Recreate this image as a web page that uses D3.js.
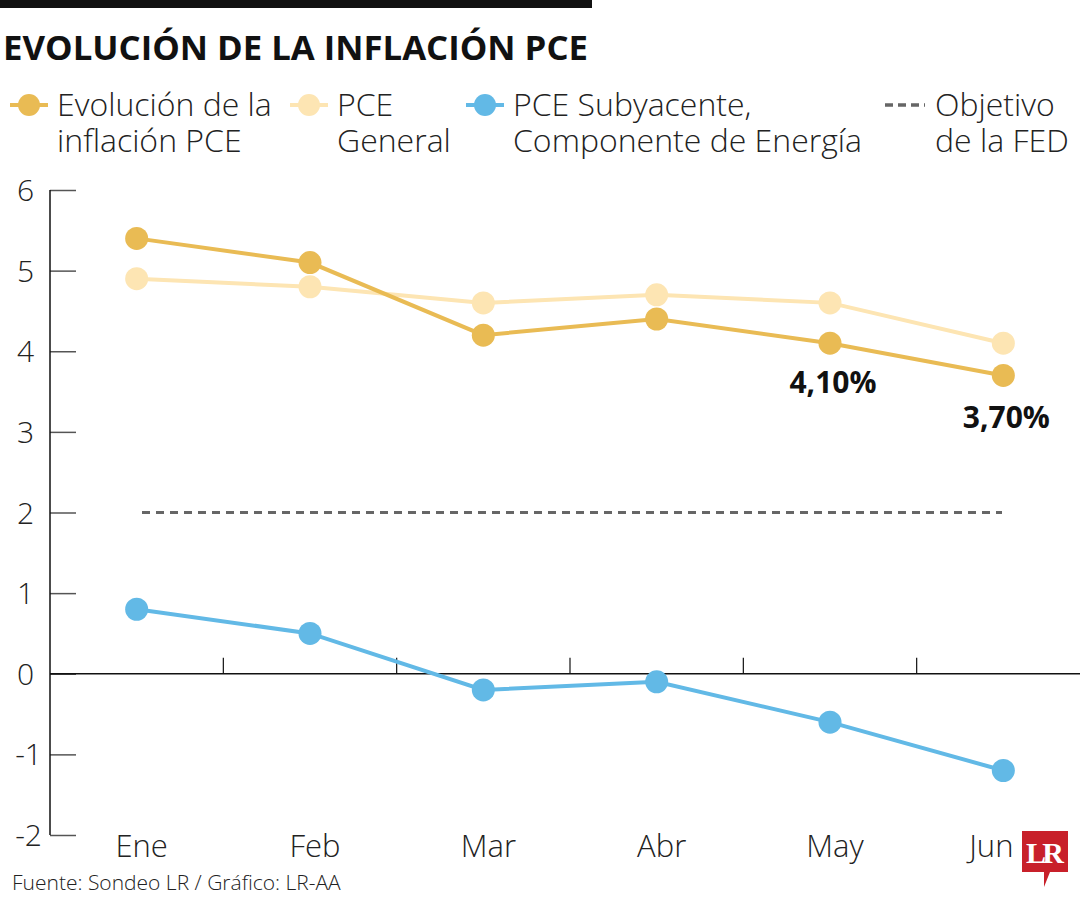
<!DOCTYPE html>
<html>
<head>
<meta charset="utf-8">
<script src="https://cdn.jsdelivr.net/npm/d3@7"></script>
<style>
  body { margin: 0; background: #fff; }
  text { font-family: "Open Sans", "Noto Sans", sans-serif; }
</style>
</head>
<body>
<div id="chart"></div>
<script>
// --- datos ---
const meses = ["Ene", "Feb", "Mar", "Abr", "May", "Jun"];
const evolucion = [5.4, 5.1, 4.2, 4.4, 4.1, 3.7];
const general = [4.9, 4.8, 4.6, 4.7, 4.6, 4.1];
const subyacente = [0.8, 0.5, -0.2, -0.1, -0.6, -1.2];
const objetivoFed = 2;
const ticksY = [-2, -1, 0, 1, 2, 3, 4, 5, 6];
const etiquetas = [{ i: 4, txt: "4,10%", dy: 50 }, { i: 5, txt: "3,70%", dy: 53 }];

const W = 1080, H = 900;
const oro = "#e9bb54", claro = "#fde5b3", azul = "#62b9e6";

const svg = d3.select("#chart").append("svg").attr("width", W).attr("height", H);

// barra y título
svg.append("rect").attr("x", 0).attr("y", 0).attr("width", 592).attr("height", 8).attr("fill", "#111");
svg.append("text").attr("x", 3).attr("y", 60).attr("font-size", 34).attr("font-weight", 700)
  .attr("textLength", 585).attr("lengthAdjust", "spacingAndGlyphs")
  .attr("fill", "#111").text("EVOLUCIÓN DE LA INFLACIÓN PCE");

// escalas
const x = d3.scaleBand().domain(meses).range([50, 1090]);
const y = d3.scaleLinear().domain([-2, 6]).range([835, 190]);
const cx = m => x(m) + x.bandwidth() / 2;

// eje Y
const ejeY = svg.append("g").attr("transform", "translate(50,0)")
  .call(d3.axisRight(y).tickValues(ticksY).tickSize(26).tickFormat(""));
ejeY.select(".domain").remove();
ejeY.selectAll(".tick line").attr("stroke", "#555").attr("stroke-width", 1.5);
svg.append("line").attr("x1", 50).attr("x2", 50).attr("y1", y(6)).attr("y2", y(-2))
  .attr("stroke", "#111").attr("stroke-width", 1.5);
svg.append("g").selectAll("text").data(ticksY).join("text")
  .attr("x", d => d < 0 ? 42 : 34).attr("y", d => y(d) + 11)
  .attr("text-anchor", "end").attr("font-size", 30).attr("font-weight", 300).attr("fill", "#222")
  .text(d => d);

// eje X en cero
svg.append("line").attr("x1", 50).attr("x2", W).attr("y1", y(0)).attr("y2", y(0))
  .attr("stroke", "#111").attr("stroke-width", 1.5);
svg.append("g").selectAll("line").data(meses.slice(1)).join("line")
  .attr("x1", d => x(d)).attr("x2", d => x(d)).attr("y1", y(0) - 16).attr("y2", y(0))
  .attr("stroke", "#111").attr("stroke-width", 1.2);
svg.append("g").selectAll("text").data(meses).join("text")
  .attr("x", (d, i) => cx(d) + (i === 5 ? -12 : 5)).attr("y", 857).attr("text-anchor", "middle")
  .attr("font-size", 31).attr("font-weight", 300).attr("fill", "#222").text(d => d);

// objetivo FED
svg.append("line").attr("x1", 142).attr("x2", 1002).attr("y1", y(objetivoFed)).attr("y2", y(objetivoFed))
  .attr("stroke", "#666").attr("stroke-width", 3).attr("stroke-dasharray", "8,6");

// series
const linea = d3.line().x((d, i) => cx(meses[i])).y(d => y(d));
function serie(valores, color) {
  const g = svg.append("g");
  g.append("path").datum(valores).attr("d", linea).attr("fill", "none")
    .attr("stroke", color).attr("stroke-width", 4);
  g.selectAll("circle").data(valores).join("circle")
    .attr("cx", (d, i) => cx(meses[i])).attr("cy", d => y(d)).attr("r", 11.5).attr("fill", color);
}
serie(general, claro);
serie(evolucion, oro);
serie(subyacente, azul);

// etiquetas de valor
svg.append("g").selectAll("text").data(etiquetas).join("text")
  .attr("x", d => cx(meses[d.i]) + 3).attr("y", d => y(evolucion[d.i]) + d.dy)
  .attr("text-anchor", "middle").attr("font-size", 30).attr("font-weight", 700).attr("fill", "#111")
  .text(d => d.txt);

// leyenda
const leyenda = [
  { x: 10, tipo: "punto", color: oro, l: ["Evolución de la", "inflación PCE"] },
  { x: 290, tipo: "punto", color: claro, l: ["PCE", "General"] },
  { x: 466, tipo: "punto", color: azul, l: ["PCE Subyacente,", "Componente de Energía"] },
  { x: 885, tipo: "linea", color: "#666", l: ["Objetivo", "de la FED"] }
];
const items = svg.append("g").selectAll("g").data(leyenda).join("g")
  .attr("transform", d => `translate(${d.x},105)`);
items.filter(d => d.tipo === "punto").append("line").attr("x1", 0).attr("x2", 38)
  .attr("stroke", d => d.color).attr("stroke-width", 4);
items.filter(d => d.tipo === "punto").append("circle").attr("cx", 19).attr("r", 11).attr("fill", d => d.color);
items.filter(d => d.tipo === "linea").append("line").attr("x1", 0).attr("x2", 40)
  .attr("stroke", d => d.color).attr("stroke-width", 3.5).attr("stroke-dasharray", "8,5");
items.each(function (d) {
  const g = d3.select(this);
  d.l.forEach((t, i) => {
    g.append("text").attr("x", d.tipo === "linea" ? 50 : 47).attr("y", 11 + i * 36)
      .attr("font-size", 32).attr("font-weight", 300).attr("fill", "#222").text(t);
  });
});

// fuente
svg.append("text").attr("x", 12).attr("y", 890).attr("font-size", 21).attr("font-weight", 300)
  .attr("fill", "#222").text("Fuente: Sondeo LR / Gráfico: LR-AA");

// logo LR
const logo = svg.append("g").attr("transform", "translate(1022,831)");
logo.append("path").attr("d", "M0,0 H46 V41 H28 L22,56 V41 H0 Z").attr("fill", "#c8202a");
logo.append("text").attr("x", 23).attr("y", 32).attr("text-anchor", "middle")
  .style("font-family", "'Liberation Serif', 'DejaVu Serif', serif").attr("font-weight", 700)
  .attr("font-size", 30).attr("fill", "#fff").attr("textLength", 38).text("LR");
</script>
</body>
</html>
